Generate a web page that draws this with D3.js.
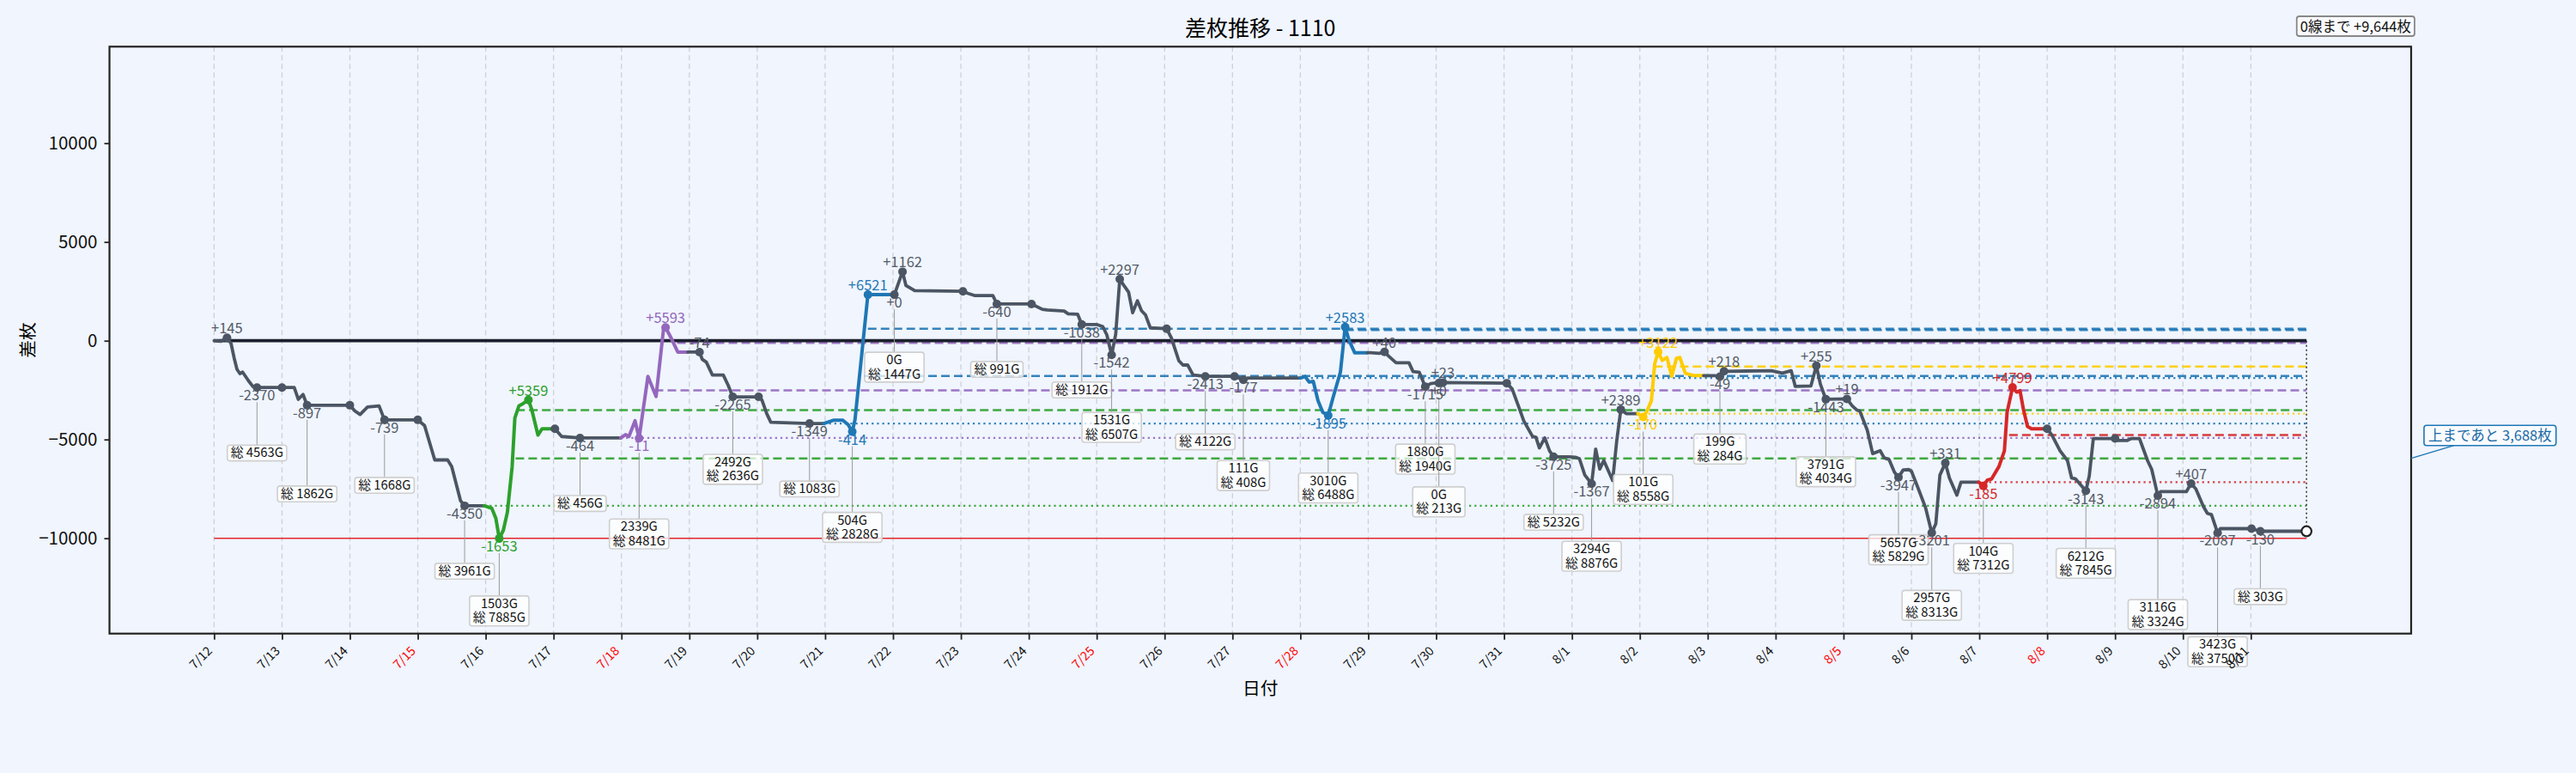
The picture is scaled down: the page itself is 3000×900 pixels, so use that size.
<!DOCTYPE html>
<html><head><meta charset="utf-8">
<script src="https://cdn.jsdelivr.net/npm/d3@7"></script>
<style>
html,body{margin:0;padding:0;background:#f0f5fe;}
svg{display:block;}
</style></head><body>
<svg id="chart" width="3000" height="900"></svg>
<script>
// ---------------- data ----------------
const chartTitle = "差枚推移 - 1110";
const xAxisTitle = "日付";
const yAxisTitle = "差枚";
const dayLabels = ["7/12","7/13","7/14","7/15","7/16","7/17","7/18","7/19","7/20","7/21","7/22","7/23","7/24","7/25","7/26","7/27","7/28","7/29","7/30","7/31","8/1","8/2","8/3","8/4","8/5","8/6","8/7","8/8","8/9","8/10","8/11"];
const specialDays = ["7/15","7/18","7/25","7/28","8/5","8/8"];
const yTickValues = [-10000,-5000,0,5000,10000];
const yDomain = [-14826, 14887];
const zeroLevel = 0;
const limitLevel = -10000;
const toZeroText = "0線まで +9,644枚";
const toUpperText = "上まであと 3,688枚";
const upperTarget = -5956;

// [day offset from 7/12, cumulative 差枚, session] session 0 = normal, 1..6 = highlighted sessions
const trace = [
[0.00,0,0],[0.10,-30,0],[0.19,145,0],[0.25,-143,0],[0.295,-868,0],[0.337,-1446,0],[0.38,-1663,0],[0.42,-1590,0],[0.506,-2024,0],[0.57,-2314,0],[0.632,-2370,0],[1.00,-2370,0],
[1.18,-2370,0],[1.24,-2966,0],[1.31,-2720,0],[1.37,-3267,0],[2.00,-3267,0],
[2.07,-3545,0],[2.15,-3733,0],[2.26,-3357,0],[2.43,-3300,0],[2.51,-4006,0],[3.00,-4006,0],
[3.10,-4297,0],[3.25,-6035,0],[3.44,-6035,0],[3.50,-6369,0],[3.63,-8103,0],[3.69,-8356,0],[3.98,-8356,0],
[4.09,-8480,1],[4.15,-8987,1],[4.20,-10009,1],[4.26,-9600,1],[4.32,-8684,1],[4.39,-6369,1],[4.43,-3908,1],[4.49,-3300,1],[4.55,-3185,1],[4.63,-2997,1],[4.68,-3500,1],[4.77,-4776,1],[4.83,-4459,1],[4.98,-4459,1],
[5.02,-4459,0],[5.12,-4850,0],[5.39,-4923,0],[5.99,-4923,0],
[6.06,-4755,2],[6.11,-4850,2],[6.20,-4051,2],[6.26,-4934,2],[6.39,-1808,2],[6.51,-2822,2],[6.62,600,2],[6.65,670,2],[6.72,217,2],[6.83,-577,2],[6.98,-577,2],
[7.15,-577,0],[7.19,-940,0],[7.25,-1085,0],[7.34,-1737,0],[7.50,-1737,0],[7.57,-2243,0],[7.64,-2842,0],[8.02,-2842,0],
[8.07,-3011,0],[8.14,-3690,0],[8.20,-4125,0],[8.77,-4191,0],[8.98,-4191,0],
[9.13,-4022,3],[9.26,-4022,3],[9.34,-4250,3],[9.40,-4605,3],[9.44,-4000,3],[9.63,2330,3],[10.00,2330,3],
[10.02,2330,0],[10.14,3492,0],[10.19,2800,0],[10.32,2535,0],[11.03,2500,0],
[11.11,2390,0],[11.20,2290,0],[11.47,2290,0],[11.53,1860,0],[12.04,1860,0],
[12.20,1592,0],[12.27,1560,0],[12.52,1505,0],[12.58,1360,0],[12.72,1340,0],[12.78,822,0],[13.00,822,0],
[13.09,717,0],[13.15,290,0],[13.22,-720,0],[13.28,330,0],[13.34,3119,0],[13.41,2750,0],[13.47,2460,0],[13.53,1418,0],[13.60,2026,0],[13.66,1520,0],[13.72,1300,0],[13.79,650,0],[14.03,608,0],
[14.10,145,0],[14.21,-1013,0],[14.27,-1230,0],[14.34,-1230,0],[14.42,-1737,0],[14.60,-1805,0],[15.03,-1805,0],
[15.09,-1880,0],[15.16,-1982,0],[15.22,-1890,0],[16.00,-1890,0],
[16.07,-1810,4],[16.13,-2095,4],[16.19,-2060,4],[16.26,-3039,4],[16.33,-3618,4],[16.41,-3785,4],[16.48,-2895,4],[16.59,-1591,4],[16.66,693,4],[16.72,0,4],[16.80,-608,4],[16.99,-608,4],
[17.03,-608,0],[17.16,-640,0],[17.24,-568,0],[17.30,-780,0],[17.41,-1115,0],[17.60,-1115,0],[17.66,-1560,0],[17.75,-1590,0],[17.84,-2323,0],[17.92,-2170,0],[17.99,-2140,0],
[18.04,-2140,0],[18.10,-2117,0],[19.04,-2150,0],
[19.12,-2440,0],[19.23,-3474,0],[19.29,-4051,0],[19.42,-4846,0],[19.47,-4890,0],[19.52,-5426,0],[19.60,-4920,0],[19.67,-5570,0],[19.73,-5875,0],[19.96,-5875,0],
[20.05,-5900,0],[20.11,-5970,0],[20.19,-6801,0],[20.29,-7242,0],[20.35,-5484,0],[20.41,-6498,0],[20.47,-6064,0],[20.60,-7077,0],[20.66,-5063,0],[20.72,-3486,0],[20.80,-3690,0],[20.97,-3690,0],
[21.05,-3860,5],[21.10,-3600,5],[21.17,-3040,5],[21.22,-1157,5],[21.27,-568,5],[21.33,-998,5],[21.40,-850,5],[21.47,-1795,5],[21.54,-888,5],[21.59,-850,5],[21.67,-1650,5],[21.79,-1765,5],[21.94,-1765,5],
[22.10,-1765,0],[22.18,-1814,0],[22.24,-1547,0],[22.94,-1520,0],[22.98,-1550,0],
[23.10,-1640,0],[23.23,-1520,0],[23.29,-2316,0],[23.52,-2290,0],[23.60,-1265,0],[23.66,-2200,0],[23.74,-2963,0],[24.05,-2944,0],
[24.13,-3300,0],[24.20,-3515,0],[24.24,-3560,0],[24.35,-4525,0],[24.43,-5715,0],[24.54,-5570,0],[24.60,-5932,0],[24.67,-6005,0],[24.75,-6656,0],[24.81,-6910,0],[24.88,-6540,0],[24.96,-6523,0],
[25.00,-6600,0],[25.09,-7380,0],[25.21,-8467,0],[25.30,-9724,0],[25.36,-9262,0],[25.42,-6800,0],[25.50,-6192,0],[25.56,-6945,0],[25.67,-7814,0],[25.73,-7163,0],[25.99,-7163,0],
[26.06,-7348,6],[26.12,-7050,6],[26.18,-7000,6],[26.29,-6366,6],[26.37,-5570,6],[26.41,-3617,6],[26.49,-2364,6],[26.55,-2602,6],[26.60,-2530,6],[26.65,-3474,6],[26.71,-4341,6],[26.77,-4458,6],[26.95,-4458,6],
[27.00,-4458,0],[27.07,-4776,0],[27.19,-5570,0],[27.30,-6077,0],[27.36,-6945,0],[27.42,-7000,0],[27.57,-7601,0],[27.62,-6850,0],[27.68,-4950,0],[27.91,-4950,0],
[28.00,-4950,0],[28.04,-5050,0],[28.18,-5050,0],[28.24,-4950,0],[28.36,-4950,0],[28.41,-5426,0],[28.48,-6077,0],[28.54,-6511,0],[28.63,-7844,0],[28.67,-7640,0],[29.05,-7640,0],
[29.12,-7233,0],[29.19,-7500,0],[29.30,-8380,0],[29.36,-8740,0],[29.42,-8800,0],[29.51,-9727,0],[29.55,-9514,0],[30.00,-9514,0],
[30.01,-9514,0],[30.14,-9644,0],[30.82,-9644,0]
];

// [day, value, label, above(1)/below(0), session]
const markers = [
[0.19,145,"+145",1,0],[0.632,-2370,"-2370",0,0],[1.00,-2370,"",0,0],[1.37,-3267,"-897",0,0],[2.00,-3267,"",0,0],[2.51,-4006,"-739",0,0],[3.00,-4006,"",0,0],[3.69,-8356,"-4350",0,0],
[4.20,-10009,"-1653",0,1],[4.63,-2997,"+5359",1,1],
[5.02,-4459,"",0,0],[5.39,-4923,"-464",0,0],
[6.26,-4934,"-11",0,2],[6.65,670,"+5593",1,2],
[7.15,-577,"-74",1,0],[7.64,-2842,"-2265",0,0],[8.02,-2842,"",0,0],[8.77,-4191,"-1349",0,0],
[9.40,-4605,"-414",0,3],[9.63,2330,"+6521",1,3],
[10.02,2330,"+0",0,0],[10.14,3492,"+1162",1,0],[11.03,2500,"",0,0],[11.53,1860,"-640",0,0],[12.04,1860,"",0,0],[12.78,822,"-1038",0,0],[13.22,-720,"-1542",0,0],[13.34,3119,"+2297",1,0],[14.03,608,"",0,0],[14.60,-1805,"-2413",0,0],[15.03,-1805,"",0,0],[15.16,-1982,"-177",0,0],
[16.41,-3785,"-1895",0,4],[16.66,693,"+2583",1,4],
[17.24,-568,"+40",1,0],[17.84,-2323,"-1715",0,0],[18.04,-2140,"+0",0,0],[18.10,-2117,"+23",1,0],[19.04,-2150,"",0,0],[19.73,-5875,"-3725",0,0],[20.29,-7242,"-1367",0,0],[20.72,-3486,"+2389",1,0],
[21.05,-3860,"-170",0,5],[21.27,-568,"+3122",1,5],
[22.18,-1814,"-49",0,0],[22.24,-1547,"+218",1,0],[23.60,-1265,"+255",1,0],[23.74,-2963,"-1443",0,0],[24.05,-2944,"+19",1,0],[24.81,-6910,"-3947",0,0],[25.30,-9724,"-3201",0,0],[25.50,-6192,"+331",1,0],
[26.06,-7348,"-185",0,6],[26.49,-2364,"+4799",1,6],
[27.00,-4458,"",0,0],[27.57,-7601,"-3143",0,0],[28.00,-4950,"",0,0],[28.63,-7844,"-2894",0,0],[29.12,-7233,"+407",1,0],[29.51,-9727,"-2087",0,0],[30.01,-9514,"",0,0],[30.14,-9644,"-130",0,0]
];

// [day, value, games at low, total games]
const lowBoxes = [
[0.632,-2370,"","総 4563G"],[1.37,-3267,"","総 1862G"],[2.51,-4006,"","総 1668G"],[3.69,-8356,"","総 3961G"],
[4.20,-10009,"1503G","総 7885G"],[5.39,-4923,"","総 456G"],[6.26,-4934,"2339G","総 8481G"],[7.64,-2842,"2492G","総 2636G"],
[8.77,-4191,"","総 1083G"],[9.40,-4605,"504G","総 2828G"],[10.02,2330,"0G","総 1447G"],[11.53,1860,"","総 991G"],
[12.78,822,"","総 1912G"],[13.22,-720,"1531G","総 6507G"],[14.60,-1805,"","総 4122G"],[15.16,-1982,"111G","総 408G"],
[16.41,-3785,"3010G","総 6488G"],[17.84,-2323,"1880G","総 1940G"],[18.04,-2140,"0G","総 213G"],[19.73,-5875,"","総 5232G"],
[20.29,-7242,"3294G","総 8876G"],[21.05,-3860,"101G","総 8558G"],[22.18,-1814,"199G","総 284G"],[23.74,-2963,"3791G","総 4034G"],
[24.81,-6910,"5657G","総 5829G"],[25.30,-9724,"2957G","総 8313G"],[26.06,-7348,"104G","総 7312G"],[27.57,-7601,"6212G","総 7845G"],
[28.63,-7844,"3116G","総 3324G"],[29.51,-9727,"3423G","総 3750G"],[30.14,-9644,"","総 303G"]
];

// [value, start day, session, kind]
const refLines = [
[-8356,3.98,1,"dot"],[-3515,4.45,1,"dash"],[-5956,4.44,1,"dash"],
[-4923,5.99,2,"dot"],[-2518,6.49,2,"dash"],[-115,6.82,2,"dash"],
[-4191,8.98,3,"dot"],[-1780,9.57,3,"dash"],[608,9.63,3,"dash"],
[-1890,16.0,4,"dot"],[540,16.66,4,"dash"],
[-3690,20.97,5,"dot"],[-1302,21.21,5,"dash"],
[-7163,25.99,6,"dot"],[-4776,26.44,6,"dash"]
];

// ---------------- drawing ----------------
const sessionColors = ["#4b5563","#2ca02c","#9467bd","#1f77b4","#1f77b4","#ffcc00","#d62728"];
const bg = "#f0f5fe";
const FONT = "'Noto Sans CJK JP','Noto Sans',sans-serif";
const W = 3000, H = 900;
const plot = {left:127.5, right:2808, top:54.3, bottom:737.7};
const endT = trace[trace.length-1][0];
const finalValue = trace[trace.length-1][1];

const svg = d3.select("#chart").attr("font-family", FONT);
const x = d3.scaleLinear().domain([-0.05*endT, 1.05*endT]).range([plot.left, plot.right]);
const y = d3.scaleLinear().domain(yDomain).range([plot.bottom, plot.top]);

svg.append("rect").attr("width",W).attr("height",H).attr("fill",bg);

// vertical day grid
svg.append("g").selectAll("line").data(d3.range(dayLabels.length)).join("line")
  .attr("x1",d=>x(d)).attr("x2",d=>x(d)).attr("y1",plot.top).attr("y2",plot.bottom)
  .attr("stroke","#cdd1d8").attr("stroke-width",1.3).attr("stroke-dasharray","6,4");

// limit line
svg.append("line").attr("x1",x(0)).attr("x2",x(endT)).attr("y1",y(limitLevel)).attr("y2",y(limitLevel))
  .attr("stroke","#e3262b").attr("stroke-width",1.6);

// reference lines
svg.append("g").selectAll("line").data(refLines).join("line")
  .attr("x1",d=>x(d[1])).attr("x2",x(endT)).attr("y1",d=>y(d[0])).attr("y2",d=>y(d[0]))
  .attr("stroke",d=>sessionColors[d[2]]).attr("stroke-opacity",0.9)
  .attr("stroke-width",d=>d[3]==="dash"?2.5:2.3)
  .attr("stroke-dasharray",d=>d[3]==="dash"?"10,5":"2.2,4");

// zero line
svg.append("line").attr("x1",x(0)).attr("x2",x(endT)).attr("y1",y(zeroLevel)).attr("y2",y(zeroLevel))
  .attr("stroke","#1b1f2b").attr("stroke-width",3.8);

// vertical dotted from zero to final
svg.append("line").attr("x1",x(endT)).attr("x2",x(endT)).attr("y1",y(zeroLevel)).attr("y2",y(finalValue))
  .attr("stroke","#333").attr("stroke-width",1.5).attr("stroke-dasharray","2,3");

// split trace into session segments
const segments = [];
trace.forEach((p,i)=>{
  const last = segments[segments.length-1];
  if(!last || last.s !== p[2]){
    const seg = {s:p[2], pts: i>0 ? [trace[i-1]] : []};
    seg.pts.push(p); segments.push(seg);
  } else last.pts.push(p);
});
const line = d3.line().x(d=>x(d[0])).y(d=>y(d[1]));
svg.append("g").selectAll("path").data(segments).join("path")
  .attr("d",d=>line(d.pts)).attr("fill","none")
  .attr("stroke",d=>sessionColors[d.s]).attr("stroke-width",d=>d.s?4.0:3.8)
  .attr("stroke-linejoin","round").attr("stroke-linecap","round");

// markers
svg.append("g").selectAll("circle").data(markers).join("circle")
  .attr("cx",d=>x(d[0])).attr("cy",d=>y(d[1])).attr("r",5)
  .attr("fill",d=>sessionColors[d[4]]);

// end marker
svg.append("circle").attr("cx",x(endT)).attr("cy",y(finalValue)).attr("r",5.8)
  .attr("fill","#fff").attr("stroke","#222").attr("stroke-width",2.2);

// low boxes with leader lines (stacked to avoid overlaps)
const boxLayer = svg.append("g");
const placed = [];
lowBoxes.forEach(b=>{
  const cx = x(b[0]), dy = y(b[1]);
  const lines = b[2] ? [b[2], b[3]] : [b[3]];
  const h = 2 + 16.4*lines.length;
  let level = 0, top;
  while(true){
    top = dy + 67 + level*27;
    const hit = placed.some(p=> Math.abs(p.cx-cx) < 86.5 && top < p.bottom + 6 && top + h > p.top - 6);
    if(!hit) break;
    level++;
  }
  placed.push({cx, top, bottom: top+h});
  const g = boxLayer.append("g");
  g.append("line").attr("x1",cx).attr("x2",cx).attr("y1",dy+17).attr("y2",top)
    .attr("stroke","#9a9a9a").attr("stroke-width",1);
  const rect = g.append("rect");
  const txt = g.append("text").attr("text-anchor","middle").attr("font-size",14.8).attr("fill","#111");
  lines.forEach((t,i)=>{
    txt.append("tspan").attr("x",cx).attr("y",top + 14 + i*16.4).text(t);
  });
  let tw = 0;
  txt.selectAll("tspan").each(function(){ tw = Math.max(tw, this.getComputedTextLength()); });
  rect.attr("x",cx - tw/2 - 4).attr("y",top).attr("width",tw+8).attr("height",h)
    .attr("rx",3).attr("fill","#ffffff").attr("fill-opacity",0.75)
    .attr("stroke","#cfcfcf").attr("stroke-width",1.6);
});

// value labels
svg.append("g").selectAll("text").data(markers.filter(d=>d[2])).join("text")
  .attr("x",d=>x(d[0])).attr("y",d=>d[3] ? y(d[1])-5 : y(d[1])+15)
  .attr("text-anchor","middle").attr("font-size",16.5)
  .attr("fill",d=>d[4] ? sessionColors[d[4]] : "#555b66")
  .text(d=>d[2]);

// axes
const gy = svg.append("g").attr("transform",`translate(${plot.left},0)`)
  .call(d3.axisLeft(y).tickValues(yTickValues).tickSize(6).tickPadding(8).tickFormat(d3.format("d")));
gy.select(".domain").remove();
gy.attr("font-family",FONT);
gy.selectAll(".tick line").attr("stroke","#222").attr("stroke-width",1.8);
gy.selectAll(".tick text").attr("font-size",20.5).attr("fill","#111");

const gx = svg.append("g").attr("transform",`translate(0,${plot.bottom})`)
  .call(d3.axisBottom(x).tickValues(d3.range(dayLabels.length)).tickSize(7).tickFormat(i=>dayLabels[i]));
gx.select(".domain").remove();
gx.attr("font-family",FONT);
gx.selectAll(".tick line").attr("stroke","#222").attr("stroke-width",1.8);
gx.selectAll(".tick text")
  .attr("x",0).attr("y",0).attr("dy",0)
  .attr("transform","translate(-2,21) rotate(-45)")
  .attr("text-anchor","end").attr("font-size",14.5)
  .attr("fill",(d)=> specialDays.includes(dayLabels[d]) ? "#ff0000" : "#111");

// frame
svg.append("rect").attr("x",plot.left).attr("y",plot.top)
  .attr("width",plot.right-plot.left).attr("height",plot.bottom-plot.top)
  .attr("fill","none").attr("stroke","#222").attr("stroke-width",2.2);

// titles
svg.append("text").attr("x",(plot.left+plot.right)/2).attr("y",42).attr("text-anchor","middle")
  .attr("font-size",25).attr("fill","#000").text(chartTitle);
svg.append("text").attr("x",(plot.left+plot.right)/2).attr("y",809).attr("text-anchor","middle")
  .attr("font-size",20.8).attr("fill","#000").text(xAxisTitle);
svg.append("text").attr("transform",`translate(40,${(plot.top+plot.bottom)/2}) rotate(-90)`)
  .attr("text-anchor","middle").attr("font-size",20.8).attr("fill","#000").text(yAxisTitle);

// 0線まで box
{
  const g = svg.append("g");
  const r = g.append("rect");
  const t = g.append("text").attr("x",plot.right).attr("y",37).attr("text-anchor","end")
    .attr("font-size",16.5).attr("fill","#111").text(toZeroText);
  const tw = t.node().getComputedTextLength();
  r.attr("x",plot.right - tw - 4).attr("y",19).attr("width",tw+8).attr("height",23)
    .attr("rx",3).attr("fill","#ffffff").attr("fill-opacity",0.6).attr("stroke","#888").attr("stroke-width",1.8);
}
// 上まであと box
{
  const ty = y(upperTarget);
  const left = plot.right + 15, bottom = ty - 15;
  svg.append("line").attr("x1",plot.right).attr("y1",ty).attr("x2",left+35).attr("y2",bottom)
    .attr("stroke","#1f77b4").attr("stroke-width",1.4);
  const g = svg.append("g");
  const r = g.append("rect");
  const t = g.append("text").attr("x",left+5).attr("y",bottom-6).attr("font-size",16.5)
    .attr("fill","#1a6aa6").text(toUpperText);
  const tw = t.node().getComputedTextLength();
  r.attr("x",left).attr("y",bottom-23.5).attr("width",tw+10).attr("height",23.5)
    .attr("rx",3).attr("fill","#ffffff").attr("fill-opacity",0.6).attr("stroke","#1f77b4").attr("stroke-width",1.6);
}
</script>
</body></html>
